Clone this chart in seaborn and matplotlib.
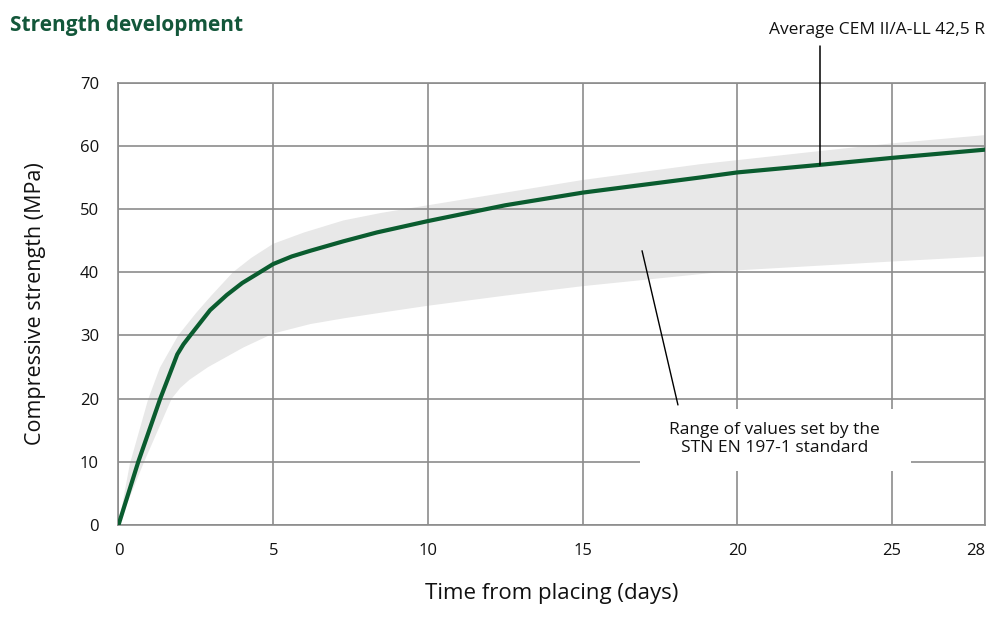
import numpy as np
import pandas as pd
import matplotlib
matplotlib.use("Agg")
import matplotlib.pyplot as plt
import seaborn as sns
from matplotlib.patches import Rectangle

# ---- data ----
avg_days = [0, 0.64, 1.35, 1.72, 1.9, 2.1, 2.32, 2.96, 3.5, 4.0, 4.47, 5.0, 5.6, 6.2, 7.27, 8.35, 10, 12.5, 15, 18.8, 20, 22.67, 25, 28]
avg_mpa = [0, 10, 20, 24.7, 27.0, 28.6, 30.0, 34.0, 36.4, 38.3, 39.7, 41.3, 42.5, 43.4, 44.9, 46.3, 48.1, 50.6, 52.6, 55.0, 55.8, 57.0, 58.1, 59.4]

upper_days = [0, 0.37, 0.96, 1.34, 1.93, 2.5, 3.0, 3.7, 4.3, 5, 6.0, 7.27, 8.5, 10, 12.5, 15, 18.8, 22.7, 25, 28]
upper_mpa = [0, 9.7, 19.9, 24.9, 30.0, 33.5, 36.3, 40.0, 42.3, 44.5, 46.3, 48.2, 49.4, 50.6, 52.6, 54.6, 57.1, 59.2, 60.4, 61.7]

lower_days = [0, 0.83, 1.72, 2.0, 2.3, 2.9, 4.04, 5, 6.2, 7.27, 8.35, 10, 12.5, 15, 18.8, 20, 25, 28]
lower_mpa = [0, 10, 20, 21.7, 23.0, 25.0, 28.1, 30.3, 31.8, 32.7, 33.5, 34.7, 36.3, 37.8, 39.7, 40.3, 41.7, 42.5]

x_ticks = [0, 5, 10, 15, 20, 25, 28]
y_ticks = [0, 10, 20, 30, 40, 50, 60, 70]

title = "Strength development"
x_label = "Time from placing (days)"
y_label = "Compressive strength (MPa)"
avg_label = "Average CEM II/A-LL 42,5 R"
range_label = "Range of values set by the\nSTN EN 197-1 standard"

# ---- style ----
sns.set_theme(style="white")
plt.rcParams["font.family"] = ["Open Sans", "DejaVu Sans"]

GREEN = "#0a5c2f"
GRID = "#8c8c8c"
BAND = "#e8e8e8"
TXT = "#111111"

fig = plt.figure(figsize=(10.04, 6.18), dpi=100)
ax = fig.add_axes([0.1180, 0.1505, 0.8630, 0.7157])

band_upper = pd.DataFrame({"day": upper_days, "mpa": upper_mpa})
band_lower = pd.DataFrame({"day": lower_days, "mpa": lower_mpa})
poly_x = list(band_upper["day"]) + list(band_lower["day"][::-1])
poly_y = list(band_upper["mpa"]) + list(band_lower["mpa"][::-1])
ax.fill(poly_x, poly_y, color=BAND, lw=0, zorder=1)

df = pd.DataFrame({"day": avg_days, "mpa": avg_mpa})
sns.lineplot(data=df, x="day", y="mpa", ax=ax, color=GREEN, lw=3.0, zorder=3,
             solid_capstyle="round", solid_joinstyle="round")

ax.set_xlim(0, 28)
ax.set_ylim(0, 70)
ax.set_xticks(x_ticks)
ax.set_yticks(y_ticks)
ax.set_xticklabels([str(t) for t in x_ticks])
ax.set_yticklabels([str(t) for t in y_ticks])
ax.get_xticklabels()[-1].set_horizontalalignment("right")

ax.grid(True, color=GRID, lw=1.2)
ax.set_axisbelow("line")
for s in ax.spines.values():
    s.set_color(GRID)
    s.set_linewidth(1.2)
    s.set_zorder(1.5)

ax.tick_params(axis="both", length=0, labelsize=12, colors=TXT)
ax.tick_params(axis="y", pad=14)
ax.tick_params(axis="x", pad=13)

ax.set_xlabel(x_label, fontsize=16, color=TXT, labelpad=17)
ax.set_ylabel(y_label, fontsize=15.5, color=TXT, labelpad=24)

fig.text(0.010, 0.958, title, fontsize=15, fontweight="bold", color="#13573a", va="center", ha="left")

# annotation: average line
ax.plot([22.67, 22.67], [57.0, 75.8], color="black", lw=1.1, clip_on=False, zorder=4)
ax.text(28.0, 78.3, avg_label, fontsize=12.5, ha="right", va="center", color=TXT, clip_on=False)

# annotation: range label with white box
ax.plot([16.92, 18.08], [43.4, 19.0], color="black", lw=1.0, zorder=4)
ax.add_patch(Rectangle((16.85, 8.5), 8.75, 9.9, facecolor="white", edgecolor="none", zorder=2))
ax.text(21.2, 13.6, range_label, fontsize=12.5, ha="center", va="center", color=TXT,
        linespacing=1.2, zorder=5)

fig.savefig("out.png", dpi=100)
